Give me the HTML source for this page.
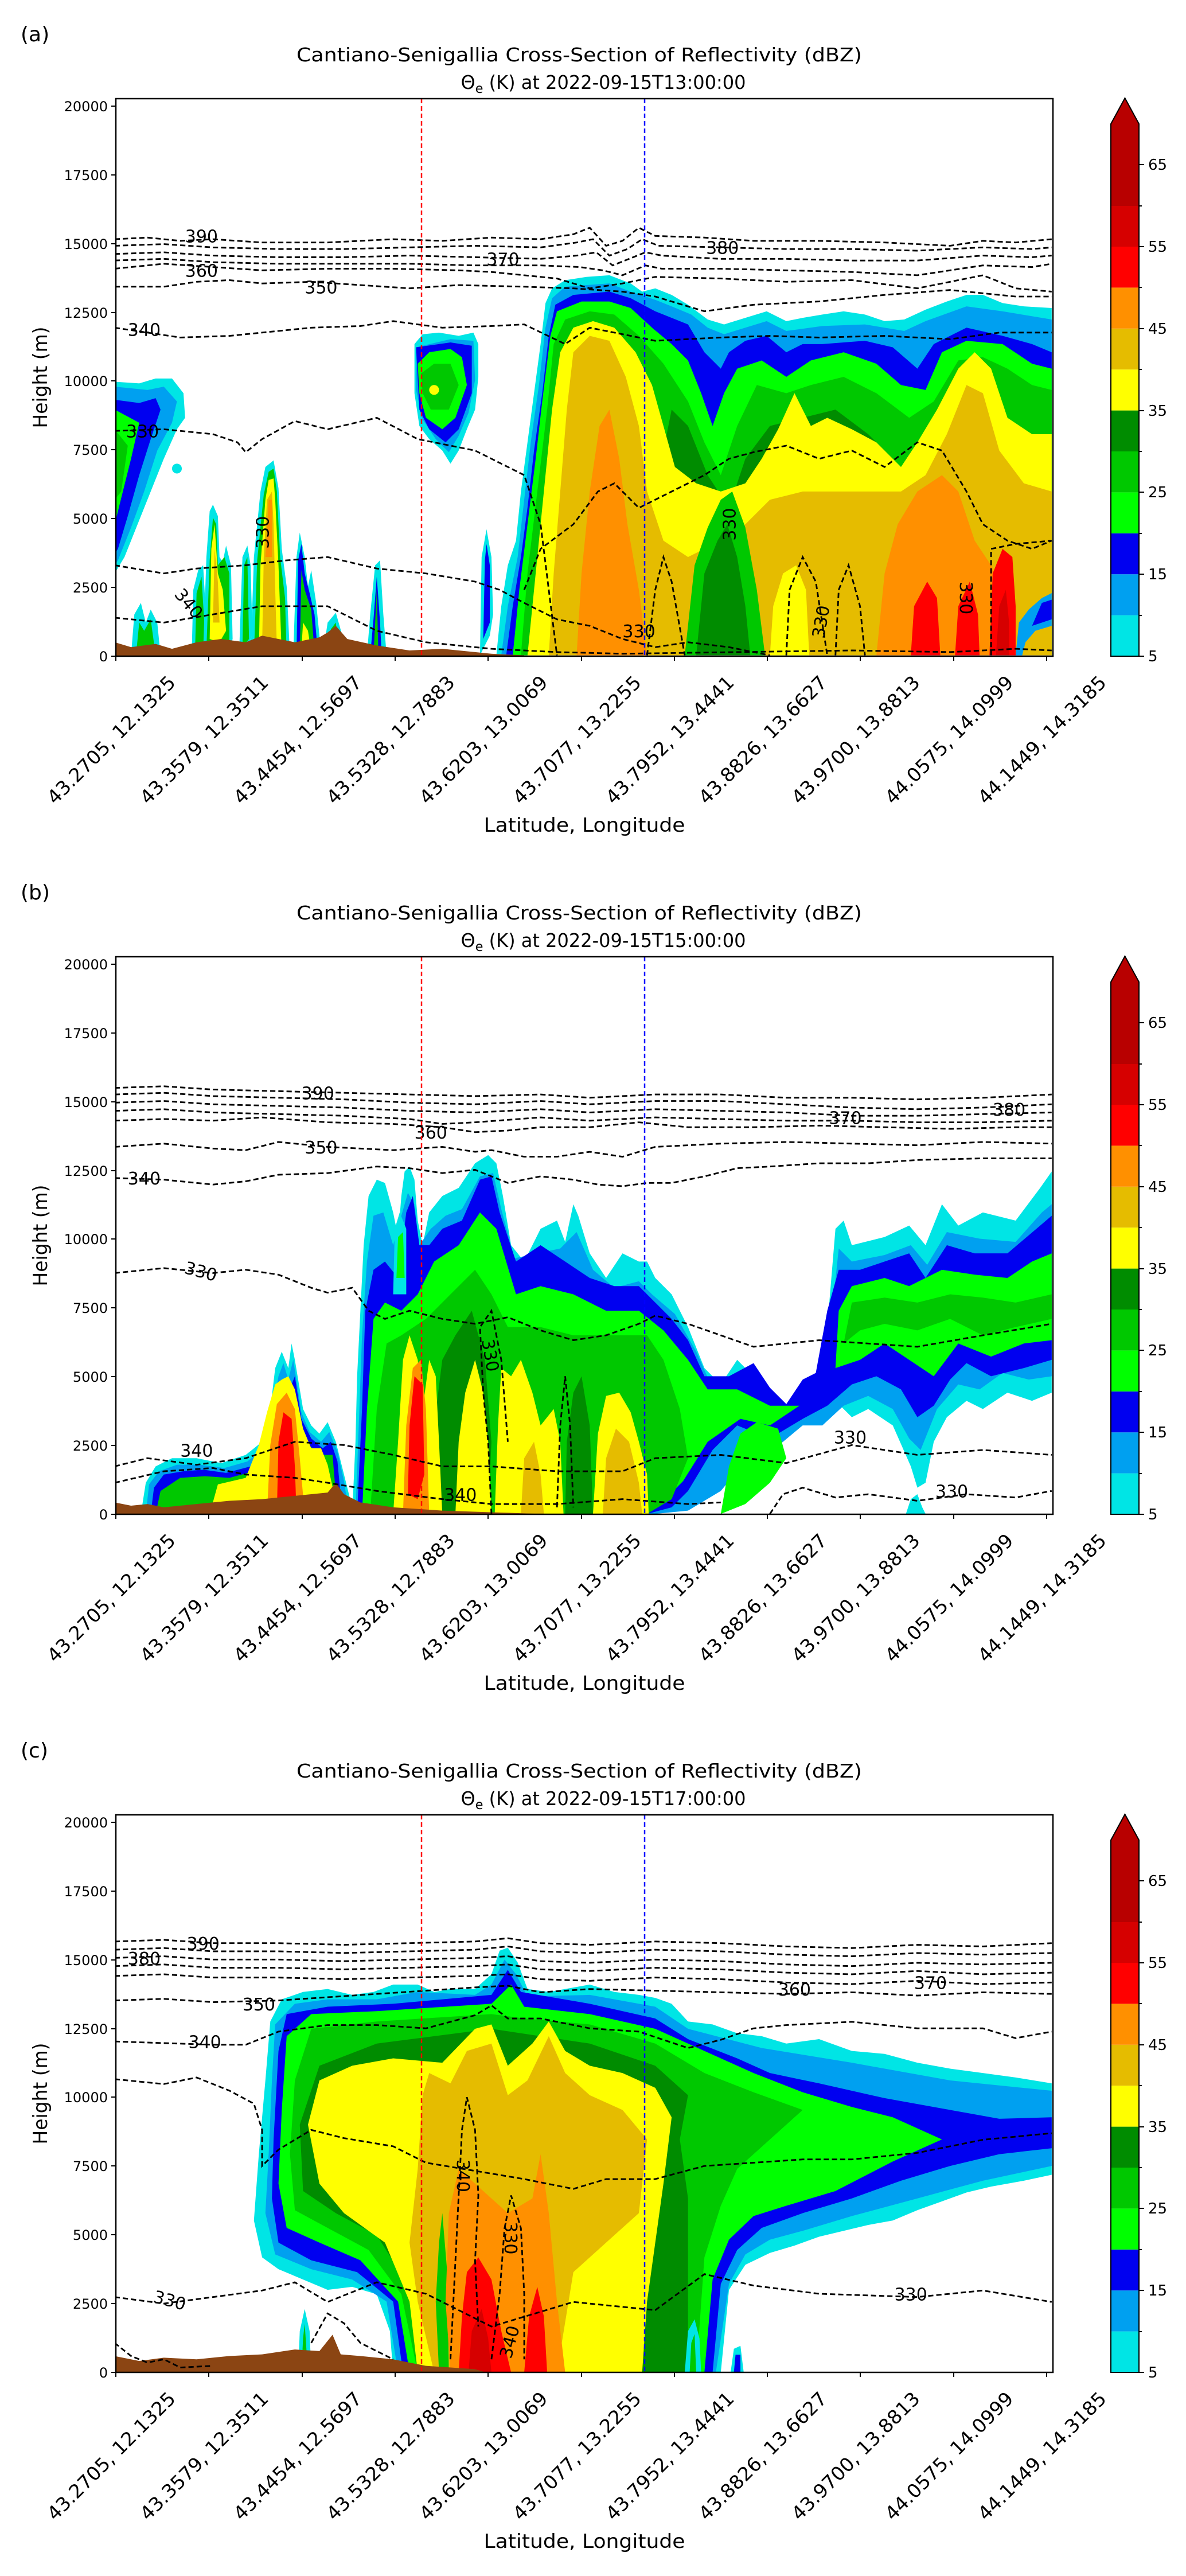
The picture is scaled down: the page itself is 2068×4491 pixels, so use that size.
<!DOCTYPE html>
<html><head><meta charset="utf-8"><style>
html,body{margin:0;padding:0;background:#fff;}
svg{display:block;}
text{font-family:"DejaVu Sans","Liberation Sans",sans-serif;fill:#000;}
.c1{fill:#00e5e5}.c2{fill:#00a0f0}.c3{fill:#0000f0}.c4{fill:#00ff00}.c5{fill:#00c800}.c6{fill:#008c00}
.c7{fill:#ffff00}.c8{fill:#e5bc00}.c9{fill:#ff9000}.c10{fill:#ff0000}.c11{fill:#d60000}.c12{fill:#c00000}
.ter{fill:#8b4513}
.ct{fill:none;stroke:#000;stroke-width:1.0;stroke-dasharray:3.2 1.8}
.cl{font-size:10.5px}
</style></head><body>
<svg width="2068" height="4491" viewBox="0 0 2068 4491" xmlns="http://www.w3.org/2000/svg">
<defs>
<clipPath id="ca"><rect x="70.7" y="60.2" width="572.1" height="340.3"/></clipPath>
<clipPath id="cb"><rect x="70.7" y="583.9" width="572.1" height="340.3"/></clipPath>
<clipPath id="cc"><rect x="70.7" y="1107.6" width="572.1" height="340.3"/></clipPath>
</defs>

<g transform="scale(2.8564)">
<!-- ================= PANEL A ================= -->
<g clip-path="url(#ca)">
<polygon class="c1" points="70,233 85,234 95,231 105,231 112,240 113,255 108,262 100,280 92,300 84,320 76,340 70,350"/>
<polygon class="c2" points="70,236 90,238 100,236 108,245 105,258 96,275 88,300 80,322 72,342 70,345"/>
<polygon class="c3" points="70,244 85,246 95,243 98,250 92,268 85,290 78,315 72,335 70,338"/>
<polygon class="c4" points="70,250 85,258 80,280 75,300 70,320"/>
<polygon class="c5" points="70,262 78,272 74,300 70,305"/>
<circle class="c1" cx="108" cy="286" r="3"/>
<polygon class="c1" points="80,400 82,375 86,368 89,380 92,372 96,380 98,400"/>
<polygon class="c5" points="83,400 85,380 88,385 92,378 95,400"/>
<polygon class="c1" points="117,400 118,360 121,348 124,345 126,380 127,400"/>
<polygon class="c5" points="119,400 120,362 123,352 125,385 125,400"/>
<polygon class="c1" points="124,398 126,340 128,312 130,308 133,315 134,340 136,343 138,333 141,345 142,390 139,400"/>
<polygon class="c5" points="126,396 128,342 130,316 132,320 133,345 137,340 140,350 140,392"/>
<polygon class="c7" points="128,390 129,335 131,320 133,350 136,360 138,385 134,392"/>
<polygon class="c8" points="130,380 131,335 133,355 134,380"/>
<polygon class="c1" points="146,398 148,340 151,333 153,345 154,385 152,398"/>
<polygon class="c5" points="148,395 149,345 151,340 152,390"/>
<polygon class="c1" points="153,400 155,340 159,300 162,285 167,281 170,298 172,335 175,358 177,400"/>
<polygon class="c5" points="155,400 157,342 161,302 164,288 167,286 169,300 171,340 174,365 175,400"/>
<polygon class="c7" points="158,400 159,345 162,305 164,293 167,292 168,305 170,345 172,400"/>
<polygon class="c8" points="160,395 161,340 163,305 166,300 167,320 168,360 169,395"/>
<polygon class="c9" points="162,340 164,305 166,305 166,340"/>
<polygon class="c1" points="179,400 181,340 183,325 186,340 188,358 190,348 193,368 196,398"/>
<polygon class="c3" points="181,398 182,342 184,332 186,350 189,362 192,375 194,398"/>
<polygon class="c5" points="183,398 184,348 186,360 190,372 192,398"/>
<polygon class="c7" points="184,396 185,380 188,385 190,398"/>
<polygon class="c1" points="197,400 200,380 205,374 209,388 211,400"/>
<polygon class="c5" points="200,400 202,384 205,380 207,400"/>
<polygon class="c1" points="224,400 226,375 229,345 232,342 234,375 236,400"/>
<polygon class="c3" points="226,400 228,378 230,352 232,380 233,400"/>
<polygon class="c5" points="228,400 230,360 231,400"/>
<polygon class="c1" points="253,210 258,204 268,203 280,205 289,203 292,210 292,230 290,250 285,262 280,275 275,283 270,275 262,268 256,260 253,240"/>
<polygon class="c2" points="254,212 275,207 289,208 290,232 286,252 280,266 274,276 266,268 258,256 254,238"/>
<polygon class="c3" points="254,212 275,209 288,211 288,240 280,262 272,270 262,262 256,250"/>
<polygon class="c4" points="255,222 262,215 275,213 282,218 285,235 278,255 270,262 260,255 256,240"/>
<polygon class="c5" points="257,228 265,222 275,222 280,235 274,250 263,250 258,240"/>
<circle class="c7" cx="265" cy="238" r="3"/>
<polygon class="c1" points="293,400 294,340 297,323 300,340 301,375 299,388"/>
<polygon class="c3" points="295,390 296,342 297,332 299,345 299,380"/>
<polygon class="c1" points="303,400 306,370 310,345 315,330 318,300 322,270 326,240 330,210 333,185 337,176 345,171 358,169 372,168 385,173 392,178 400,176 410,180 420,186 432,195 442,198 455,194 468,190 480,196 490,194 502,192 515,190 528,192 540,196 552,195 565,189 578,184 590,180 600,180 612,185 625,187 642,188 642,400"/>
<polygon class="c2" points="306,400 310,370 316,340 320,305 324,270 329,235 333,200 337,182 345,175 358,174 372,173 385,178 400,183 410,187 422,192 432,200 442,204 455,200 468,196 480,202 502,199 528,198 552,202 565,196 590,187 612,190 642,195 642,400"/>
<polygon class="c3" points="309,400 313,370 318,340 322,310 326,275 331,240 335,205 339,186 350,180 372,178 385,182 400,190 420,198 430,215 440,225 445,215 455,208 468,205 480,215 490,210 502,210 528,208 545,212 560,225 570,210 590,200 612,205 630,210 642,215 642,400"/>
<polygon class="c4" points="313,400 317,360 322,320 327,280 331,245 336,205 340,190 355,184 372,184 385,188 398,200 410,210 420,220 428,240 435,260 442,240 450,225 465,220 480,230 495,220 515,215 535,222 550,235 565,238 575,215 590,208 612,210 630,222 642,225 642,400"/>
<polygon class="c5" points="318,400 322,350 328,300 334,250 338,210 345,195 360,190 375,192 390,205 405,222 420,245 430,270 440,290 450,260 462,235 480,240 495,235 515,230 535,240 555,255 570,245 585,220 600,218 615,225 630,235 642,238 642,400"/>
<polygon class="c6" points="400,300 410,250 420,260 432,290 445,310 455,280 470,260 490,255 510,250 530,265 545,280 540,310 500,320 460,330 430,330"/>
<polygon class="c7" points="322,400 327,350 332,300 337,250 342,215 350,200 362,196 375,200 388,215 398,235 405,260 412,285 425,295 440,300 455,295 465,280 475,262 485,240 495,260 505,255 520,262 535,270 550,285 560,270 572,250 585,225 595,215 605,225 615,255 630,265 642,265 642,400"/>
<polygon class="c8" points="335,400 338,350 342,300 346,250 350,215 360,205 372,208 382,230 390,260 395,300 405,330 420,340 440,330 455,320 470,305 490,300 510,300 530,300 550,300 565,290 578,265 590,235 600,240 610,275 625,295 642,300 642,400"/>
<polygon class="c5" points="418,400 424,345 432,322 440,305 447,300 455,322 462,360 467,400"/>
<polygon class="c6" points="425,400 430,350 438,330 444,320 450,340 455,370 458,400"/>
<polygon class="c7" points="470,400 472,370 478,350 486,345 492,360 494,400"/>
<polygon class="c9" points="352,400 355,350 360,300 366,260 372,250 378,280 383,320 390,360 395,400"/>
<polygon class="c9" points="535,400 540,350 548,320 560,300 575,290 585,300 595,330 605,345 612,360 615,400"/>
<polygon class="c10" points="556,400 558,370 566,355 572,365 574,400"/>
<polygon class="c10" points="583,400 585,370 592,355 597,375 598,400"/>
<polygon class="c10" points="604,400 606,350 612,335 618,340 620,370 620,400"/>
<polygon class="c11" points="608,400 610,370 614,360 616,380 616,400"/>
<polygon class="c2" points="620,400 622,380 628,372 636,365 642,362 642,382 632,385 626,392 624,400"/>
<polygon class="c3" points="630,382 636,368 642,366 642,378"/>
<polygon class="ter" points="70,401 70,392 80,395 95,393 105,396 120,392 135,390 150,392 160,388 170,390 180,392 195,389 200,386 205,382 212,390 230,394 250,397 270,396 300,399 320,400 320,401"/>
<polyline class="ct" points="70,146 90,145 110,147 130,146 160,148 200,148 240,146 270,147 300,145 330,146 350,143 360,139 370,150 380,147 390,139 400,144 430,145 460,147 500,147 540,148 580,150 600,147 620,148 642,146"/>
<polyline class="ct" points="70,150 100,149 130,151 170,152 210,152 250,151 290,150 330,151 352,148 362,146 372,156 383,152 392,146 402,150 440,151 480,152 520,152 560,153 600,151 630,152 642,151"/>
<polyline class="ct" points="70,155 100,154 130,156 170,157 210,157 250,156 290,157 330,158 352,156 364,154 374,162 384,158 394,154 404,156 440,158 480,158 520,159 560,159 600,156 630,157 642,156"/>
<polyline class="ct" points="70,159 100,158 130,160 170,161 210,161 250,161 290,162 330,162 354,163 368,165 380,168 394,162 404,164 440,164 480,165 520,166 560,168 600,162 630,163 642,161"/>
<polyline class="ct" points="70,164 100,161 130,163 160,165 200,164 240,164 280,165 300,166 320,168 340,170 360,176 380,173 400,169 440,170 480,172 520,171 560,176 600,168 620,176 642,178"/>
<polyline class="ct" points="70,175 100,175 120,172 140,171 160,173 190,172 220,174 250,176 280,174 320,175 350,176 380,178 400,181 430,190 460,186 500,184 540,180 580,177 620,181 642,181"/>
<polyline class="ct" points="70,200 90,203 110,206 140,205 170,202 190,200 220,199 240,196 270,200 300,199 320,198 345,210 360,200 380,204 400,208 420,207 440,206 470,205 500,206 540,205 580,207 610,203 642,203"/>
<polyline class="ct" points="70,263 100,262 130,265 145,270 150,276 160,268 180,257 200,262 230,255 255,268 290,275 320,290 330,320 335,360 340,400"/>
<polyline class="ct" points="320,360 330,335 350,320 365,300 375,295 390,310 410,300 430,290 445,280 460,276 480,272 500,280 520,275 540,285 560,270 575,275 590,300 600,320 615,330 630,335 642,330"/>
<polyline class="ct" points="605,400 605,335 620,332 642,330"/>
<polyline class="ct" points="70,345 100,350 120,347 150,345 175,342 200,340 230,347 260,350 290,355 305,360 320,368 340,378 360,382 380,390 400,395 420,392 445,395 470,400"/>
<polyline class="ct" points="70,377 100,380 130,375 160,370 200,370 230,385 260,392 300,396 340,398 380,399 450,398 520,397 580,398 620,396 642,397"/>
<polyline class="ct" points="395,400 400,360 405,340 410,355 418,400"/>
<polyline class="ct" points="480,400 482,360 490,340 498,355 505,400"/>
<polyline class="ct" points="510,400 512,360 518,345 525,370 528,400"/>
</g>
<g class="cl">
<text x="113" y="148">390</text><text x="113" y="169">360</text><text x="297" y="162">370</text>
<text x="186" y="179">350</text><text x="78" y="205">340</text><text x="431" y="155">380</text>
<text x="77" y="267">330</text><text x="380" y="389">330</text>
<text x="0" y="0" transform="translate(164,335) rotate(-90)">330</text>
<text x="0" y="0" transform="translate(449,330) rotate(-90)">330</text>
<text x="0" y="0" transform="translate(503,390) rotate(-80)">330</text>
<text x="0" y="0" transform="translate(106,363) rotate(50)">340</text>
<text x="0" y="0" transform="translate(586,355) rotate(90)">330</text>
</g>

<!-- ================= PANEL B ================= -->
<g clip-path="url(#cb)">
<polygon class="c1" points="86,924 89,905 95,895 105,890 120,890 135,893 150,888 160,880 165,860 168,835 172,825 176,835 178,820 180,830 185,860 190,870 195,875 200,868 205,880 210,900 215,920 215,924"/>
<polygon class="c2" points="89,924 91,906 97,898 108,894 122,894 137,896 151,892 161,884 166,862 170,840 173,832 176,842 179,830 184,862 189,874 196,880 201,874 206,886 210,904 213,924"/>
<polygon class="c3" points="92,924 94,908 100,900 112,898 124,897 138,899 153,895 163,887 168,864 172,846 176,850 180,840 184,866 190,878 197,884 202,880 206,892 209,924"/>
<polygon class="c5" points="95,924 98,910 110,902 125,901 140,902 155,898 165,890 170,866 174,852 178,850 182,870 188,882 197,888 203,888 206,924"/>
<polygon class="c7" points="128,924 133,906 150,902 158,882 163,862 168,845 172,842 176,840 180,848 185,872 190,884 196,884 200,894 204,912 204,924"/>
<polygon class="c9" points="163,924 165,882 169,857 175,850 180,860 183,890 186,924"/>
<polygon class="c10" points="169,924 170,880 173,862 178,866 180,895 181,924"/>
<polygon class="c1" points="215,924 217,880 218,840 220,800 222,760 225,730 230,720 235,722 240,740 243,755 245,730 247,715 250,712 253,720 255,745 258,760 262,740 270,730 280,725 290,710 298,705 303,710 307,730 312,760 320,770 330,750 340,745 345,758 350,735 353,742 360,765 370,780 380,765 390,770 395,770 400,780 410,790 420,810 430,835 440,845 450,830 460,840 470,850 480,858 490,850 498,845 505,810 510,750 515,745 520,760 540,755 555,748 565,760 575,735 585,748 600,740 620,745 635,725 642,715 642,850 630,855 615,850 600,860 590,855 578,865 570,880 565,905 560,908 556,895 545,870 530,860 520,865 510,855 500,860 490,850 480,870 470,880 460,880 450,890 440,905 420,918 400,924"/>
<polygon class="c2" points="217,924 219,870 221,815 224,770 228,742 234,740 240,760 245,742 249,728 253,735 256,760 263,750 272,742 282,738 293,718 301,716 306,738 314,768 328,765 342,762 352,752 362,775 375,786 390,782 398,790 412,802 425,825 437,852 450,842 465,852 480,866 492,858 500,858 508,800 512,762 520,770 540,766 556,760 566,772 578,752 598,756 620,758 636,740 642,735 642,840 628,842 612,838 598,848 585,845 572,860 562,885 555,878 545,860 530,852 515,858 502,870 490,870 478,880 465,890 450,898 440,910 420,922 400,924"/>
<polygon class="c3" points="218,924 221,860 223,800 228,775 235,770 243,780 248,740 252,730 256,760 262,760 270,750 282,745 293,720 300,718 305,740 315,770 330,760 345,770 360,780 375,785 390,785 400,795 410,805 420,818 430,840 445,840 460,832 470,847 480,857 490,842 498,838 505,800 512,775 525,775 540,770 555,765 565,780 578,760 595,765 615,765 635,748 642,742 642,830 625,835 605,840 590,832 580,842 570,858 560,865 550,848 535,840 520,845 505,858 490,866 470,878 450,870 435,885 420,910 410,920 395,924"/>
<polygon class="c4" points="221,924 224,860 228,805 235,795 245,800 255,790 265,770 280,760 293,740 303,750 315,790 330,785 350,790 370,800 390,800 405,812 420,830 432,848 450,848 470,858 488,858 470,870 452,866 432,880 417,904 405,916 395,920"/>
<polygon class="c4" points="510,835 512,800 520,785 540,780 555,785 575,775 595,778 615,780 630,770 642,765 642,818 625,820 605,828 585,820 570,840 555,830 540,820 525,830"/>
<polygon class="c5" points="515,820 520,795 540,792 560,795 580,790 600,792 620,795 642,790 642,805 620,810 600,815 580,805 560,812 540,808 525,812"/>
<polygon class="c4" points="440,924 445,895 452,875 462,868 475,872 480,890 470,905 455,918"/>
<polygon class="c5" points="226,924 230,860 236,820 245,815 260,805 275,790 290,775 300,790 310,810 330,810 350,815 375,815 395,815 405,830 415,860 420,890 410,915 395,924"/>
<polygon class="c6" points="262,924 265,870 270,830 278,815 288,800 296,830 300,880 298,924"/>
<polygon class="c6" points="345,924 346,880 350,850 355,840 360,870 362,924"/>
<polygon class="c7" points="240,924 243,880 246,830 250,815 255,830 258,860 262,830 266,840 268,880 270,924"/>
<polygon class="c7" points="278,924 280,880 284,850 290,830 295,850 298,880 300,924"/>
<polygon class="c7" points="302,924 304,870 306,835 312,840 318,830 325,850 330,870 338,860 342,880 344,924"/>
<polygon class="c7" points="362,924 365,875 370,852 378,850 385,862 390,880 395,900 396,924"/>
<polygon class="c8" points="368,924 370,890 376,872 384,880 390,905 392,924"/>
<polygon class="c8" points="318,924 320,890 326,880 330,900 332,924"/>
<polygon class="c9" points="246,924 248,870 252,835 257,830 260,860 262,924"/>
<polygon class="c10" points="249,912 250,870 253,840 258,845 259,900 255,915"/>
<polygon class="c1" points="240,790 241,750 244,740 248,750 248,790"/>
<polygon class="c4" points="242,780 243,755 246,752 247,780"/>
<polygon class="c1" points="553,924 556,915 560,912 563,920 565,924"/>
<polygon class="ter" points="70,925 70,917 80,919 90,918 100,920 120,918 140,916 160,915 180,913 200,911 205,905 210,912 220,917 240,920 270,922 300,923 330,924 330,925"/>
<polyline class="ct" points="70,664 100,663 130,665 170,666 210,667 250,668 290,669 330,668 360,670 400,668 440,668 480,670 520,670 560,671 600,670 642,668"/>
<polyline class="ct" points="70,668 100,667 130,669 170,670 210,671 250,673 290,674 330,672 360,674 400,672 440,672 480,674 520,676 560,677 600,676 642,674"/>
<polyline class="ct" points="70,673 100,672 130,674 170,675 210,676 250,678 290,679 330,677 360,679 400,677 440,678 480,679 520,681 560,681 600,680 642,679"/>
<polyline class="ct" points="70,678 100,677 130,679 170,680 210,681 250,683 270,686 290,685 330,682 360,684 400,682 440,683 480,684 520,684 560,685 600,685 642,684"/>
<polyline class="ct" points="70,684 100,683 130,684 160,682 200,685 240,686 270,688 290,691 310,690 330,688 360,688 390,685 420,688 460,688 500,687 540,688 580,689 620,688 642,688"/>
<polyline class="ct" points="70,700 100,698 130,701 150,702 170,697 200,700 240,702 270,700 290,703 300,702 320,706 340,706 360,703 380,706 400,700 440,698 480,697 520,698 560,699 600,697 642,698"/>
<polyline class="ct" points="70,719 100,720 130,723 150,721 170,717 200,716 230,712 250,713 270,716 290,714 310,722 330,718 350,720 365,723 380,724 395,722 410,722 430,718 450,713 470,712 500,710 530,710 560,708 600,707 642,707"/>
<polyline class="ct" points="70,777 100,774 130,777 150,775 170,778 190,786 200,789 215,786 225,800 235,805 250,800 270,805 290,808 310,804 330,812 350,818 370,815 390,808 400,803 420,808 440,815 460,822 480,820 500,818 530,820 560,822 600,815 642,808"/>
<polyline class="ct" points="70,895 90,890 120,894 150,890 180,880 210,882 240,888 270,895 300,895 340,898 380,898 400,890 440,888 480,893 520,882 560,888 600,885 642,888"/>
<polyline class="ct" points="70,905 100,898 130,896 150,900 180,902 200,905 230,910 270,915 300,918 340,918 380,915 420,918 440,917"/>
<polyline class="ct" points="470,924 478,912 490,908 510,914 530,912 560,916 590,912 620,914 642,910"/>
<polyline class="ct" points="300,924 298,880 295,850 293,810 300,800 306,830 310,880"/>
<polyline class="ct" points="340,920 342,870 345,840 348,870 350,920"/>
</g>
<g class="cl">
<text x="184" y="671">390</text><text x="506" y="686">370</text><text x="606" y="681">380</text>
<text x="253" y="695">360</text><text x="186" y="704">350</text><text x="78" y="723">340</text>
<text x="0" y="0" transform="translate(112,777) rotate(15)">330</text>
<text x="509" y="881">330</text><text x="571" y="914">330</text>
<text x="110" y="889">340</text><text x="271" y="916">340</text>
<text x="0" y="0" transform="translate(294,818) rotate(80)">330</text>
</g>

<!-- ================= PANEL C ================= -->
<g clip-path="url(#cc)">
<g transform="translate(0,144.79) scale(1,0.9)">
<polygon class="c1" points="240,1448 238,1420 230,1395 215,1390 200,1392 185,1385 170,1378 160,1370 155,1345 158,1300 162,1250 165,1210 172,1195 185,1190 200,1188 215,1192 228,1190 240,1185 255,1185 265,1190 275,1188 290,1188 300,1178 305,1162 310,1160 316,1170 322,1188 335,1190 345,1188 360,1185 375,1190 390,1192 400,1194 410,1198 420,1210 435,1212 450,1218 465,1220 480,1225 500,1222 520,1230 540,1232 560,1238 580,1242 600,1245 620,1248 642,1252 642,1314 625,1318 605,1322 590,1326 575,1332 560,1338 545,1345 530,1348 515,1352 500,1356 485,1362 470,1367 455,1375 445,1392 440,1448"/>
<polygon class="c2" points="243,1448 236,1400 215,1385 190,1378 168,1368 162,1340 164,1300 166,1250 168,1212 180,1198 200,1195 230,1195 255,1190 290,1192 300,1185 308,1168 315,1178 322,1193 360,1192 400,1200 420,1215 465,1228 520,1238 580,1250 642,1257 642,1308 600,1318 560,1330 520,1342 490,1352 470,1358 455,1368 445,1388 437,1448"/>
<polygon class="c3" points="246,1448 240,1400 218,1380 190,1372 170,1360 166,1330 167,1290 170,1230 175,1205 200,1200 240,1198 300,1192 310,1175 318,1190 360,1198 400,1208 420,1222 450,1235 470,1245 500,1252 540,1262 580,1270 610,1276 642,1275 642,1296 610,1300 580,1308 550,1318 520,1330 490,1340 465,1350 450,1365 440,1388 435,1448"/>
<polygon class="c4" points="250,1448 243,1400 220,1372 195,1360 175,1350 170,1320 172,1270 175,1220 190,1205 230,1203 300,1198 312,1185 320,1200 360,1205 400,1215 430,1230 460,1245 490,1258 520,1268 545,1275 575,1290 545,1305 510,1325 480,1335 460,1342 445,1358 435,1385 430,1448"/>
<polygon class="c5" points="255,1448 245,1395 225,1365 200,1350 180,1338 177,1300 180,1250 190,1215 230,1210 300,1205 320,1208 360,1212 400,1225 430,1245 460,1258 490,1270 470,1290 450,1310 440,1335 430,1370 425,1448"/>
<polygon class="c6" points="260,1448 250,1390 230,1355 205,1340 185,1325 183,1280 195,1240 230,1225 300,1215 360,1225 400,1240 420,1260 415,1290 420,1330 420,1448"/>
<polygon class="c7" points="255,1448 250,1400 235,1360 210,1340 195,1320 188,1280 195,1250 215,1240 240,1235 270,1238 290,1215 300,1212 310,1240 325,1225 335,1210 345,1230 360,1240 380,1245 400,1255 410,1275 405,1320 400,1360 395,1400 392,1448"/>
<polygon class="c8" points="265,1448 255,1400 250,1360 255,1310 258,1260 262,1245 275,1252 285,1230 300,1225 310,1260 322,1250 335,1220 345,1245 360,1260 380,1270 395,1290 390,1340 370,1360 350,1380 340,1448"/>
<polygon class="c5" points="268,1448 266,1400 268,1360 270,1340 273,1380 274,1448"/>
<polygon class="c9" points="275,1448 272,1400 274,1340 280,1310 290,1320 300,1330 310,1340 325,1330 330,1300 335,1340 340,1400 345,1448"/>
<polygon class="c10" points="280,1448 282,1410 285,1380 292,1370 300,1385 306,1420 312,1448"/>
<polygon class="c10" points="320,1448 323,1410 328,1390 332,1410 334,1448"/>
<polygon class="c11" points="286,1448 288,1420 294,1405 298,1425 300,1448"/>
<polygon class="c1" points="182,1448 183,1420 186,1405 189,1420 190,1448"/>
<polygon class="c5" points="184,1448 185,1425 186,1415 188,1448"/>
<polygon class="c1" points="418,1448 420,1420 424,1412 427,1425 428,1448"/>
<polygon class="c5" points="421,1448 422,1428 424,1422 425,1448"/>
<polygon class="c1" points="446,1448 448,1432 452,1430 454,1448"/>
<polygon class="c3" points="448,1448 449,1436 452,1436 452,1448"/>
</g>
<polygon class="ter" points="70,1449 70,1438 85,1441 100,1439 120,1440 140,1438 160,1437 180,1434 195,1435 203,1425 208,1437 220,1438 240,1440 260,1444 290,1446 300,1449"/>
<polyline class="ct" points="70,1185 100,1184 130,1186 170,1186 210,1187 250,1186 290,1185 310,1183 330,1186 360,1187 400,1185 440,1186 480,1188 520,1189 560,1187 600,1188 642,1186"/>
<polyline class="ct" points="70,1190 100,1189 130,1191 170,1191 210,1192 250,1191 290,1190 310,1188 330,1191 360,1192 400,1190 440,1191 480,1193 520,1194 560,1192 600,1193 642,1192"/>
<polyline class="ct" points="70,1195 100,1194 130,1196 170,1196 210,1197 250,1196 290,1195 310,1194 330,1197 360,1198 400,1196 440,1197 480,1199 520,1200 560,1198 600,1199 642,1198"/>
<polyline class="ct" points="70,1200 100,1199 130,1201 170,1201 210,1202 250,1201 290,1200 310,1199 330,1202 360,1203 400,1201 440,1202 480,1204 520,1205 560,1203 600,1205 642,1204"/>
<polyline class="ct" points="70,1206 100,1205 130,1207 170,1207 210,1208 250,1207 290,1206 310,1205 330,1208 360,1209 400,1207 440,1208 480,1210 520,1211 560,1209 600,1211 642,1210"/>
<polyline class="ct" points="70,1221 100,1220 130,1222 170,1221 200,1219 230,1217 260,1215 290,1213 310,1212 330,1216 360,1214 400,1215 440,1216 480,1217 520,1216 560,1218 600,1216 642,1217"/>
<polyline class="ct" points="70,1246 100,1247 130,1248 150,1248 170,1240 200,1236 230,1236 260,1238 290,1230 300,1224 310,1232 330,1232 360,1238 390,1240 420,1250 440,1245 460,1238 480,1236 520,1234 560,1238 600,1238 620,1244 642,1240"/>
<polyline class="ct" points="70,1269 100,1272 120,1268 140,1276 155,1284 160,1300 160,1322 170,1312 190,1300 210,1305 240,1310 260,1320 290,1325 320,1330 350,1336 370,1330 400,1330 430,1322 460,1320 490,1318 520,1318 560,1314 600,1306 642,1302"/>
<polyline class="ct" points="70,1402 100,1406 130,1402 160,1398 180,1393 200,1405 230,1393 260,1400 300,1420 350,1405 400,1410 430,1388 460,1395 500,1400 560,1402 600,1398 642,1405"/>
<polyline class="ct" points="70,1430 80,1438 90,1442 100,1440 110,1445 130,1444"/>
<polyline class="ct" points="190,1430 200,1412 210,1418 220,1430 240,1440"/>
<polyline class="ct" points="275,1440 278,1380 280,1340 282,1300 285,1280 290,1300 292,1340 290,1380 292,1420"/>
<polyline class="ct" points="300,1440 305,1400 308,1360 312,1340 318,1360 320,1400 320,1440"/>
</g>
<g class="cl">
<text x="114" y="1190">390</text><text x="78" y="1199">380</text><text x="148" y="1227">350</text>
<text x="115" y="1250">340</text><text x="475" y="1218">360</text><text x="558" y="1214">370</text>
<text x="0" y="0" transform="translate(93,1405) rotate(15)">330</text>
<text x="546" y="1404">330</text>
<text x="0" y="0" transform="translate(279,1318) rotate(90)">340</text>
<text x="0" y="0" transform="translate(308,1356) rotate(90)">330</text>
<text x="0" y="0" transform="translate(312,1440) rotate(-75)">340</text>
</g>
</g>

<g>
<line x1="735" y1="172" x2="735" y2="1144" stroke="#ff0000" stroke-width="2.5" stroke-dasharray="8 5"/>
<line x1="1124" y1="172" x2="1124" y2="1144" stroke="#0000ff" stroke-width="2.5" stroke-dasharray="8 5"/>
<rect x="202" y="172" width="1634" height="972" fill="none" stroke="#000" stroke-width="2.5"/>
<text x="36" y="72" style="font-size:36px">(a)</text>
<text x="1010" y="107" text-anchor="middle" style="font-size:33px" textLength="986" lengthAdjust="spacingAndGlyphs">Cantiano-Senigallia Cross-Section of Reflectivity (dBZ)</text>
<text x="1052" y="155" text-anchor="middle" style="font-size:33px" textLength="497" lengthAdjust="spacingAndGlyphs">Θ<tspan style="font-size:23px" dy="7">e</tspan><tspan dy="-7"> (K) at 2022-09-15T13:00:00</tspan></text>
</g>
<g>
<line x1="735" y1="1668" x2="735" y2="2640" stroke="#ff0000" stroke-width="2.5" stroke-dasharray="8 5"/>
<line x1="1124" y1="1668" x2="1124" y2="2640" stroke="#0000ff" stroke-width="2.5" stroke-dasharray="8 5"/>
<rect x="202" y="1668" width="1634" height="972" fill="none" stroke="#000" stroke-width="2.5"/>
<text x="36" y="1568" style="font-size:36px">(b)</text>
<text x="1010" y="1603" text-anchor="middle" style="font-size:33px" textLength="986" lengthAdjust="spacingAndGlyphs">Cantiano-Senigallia Cross-Section of Reflectivity (dBZ)</text>
<text x="1052" y="1651" text-anchor="middle" style="font-size:33px" textLength="497" lengthAdjust="spacingAndGlyphs">Θ<tspan style="font-size:23px" dy="7">e</tspan><tspan dy="-7"> (K) at 2022-09-15T15:00:00</tspan></text>
</g>
<g>
<line x1="735" y1="3164" x2="735" y2="4136" stroke="#ff0000" stroke-width="2.5" stroke-dasharray="8 5"/>
<line x1="1124" y1="3164" x2="1124" y2="4136" stroke="#0000ff" stroke-width="2.5" stroke-dasharray="8 5"/>
<rect x="202" y="3164" width="1634" height="972" fill="none" stroke="#000" stroke-width="2.5"/>
<text x="36" y="3064" style="font-size:36px">(c)</text>
<text x="1010" y="3099" text-anchor="middle" style="font-size:33px" textLength="986" lengthAdjust="spacingAndGlyphs">Cantiano-Senigallia Cross-Section of Reflectivity (dBZ)</text>
<text x="1052" y="3147" text-anchor="middle" style="font-size:33px" textLength="497" lengthAdjust="spacingAndGlyphs">Θ<tspan style="font-size:23px" dy="7">e</tspan><tspan dy="-7"> (K) at 2022-09-15T17:00:00</tspan></text>
</g>

<g id="common">
<g stroke="#000" stroke-width="2">
<line x1="194" y1="1144" x2="202" y2="1144"/><line x1="194" y1="1024" x2="202" y2="1024"/><line x1="194" y1="904" x2="202" y2="904"/><line x1="194" y1="784" x2="202" y2="784"/><line x1="194" y1="664" x2="202" y2="664"/><line x1="194" y1="545" x2="202" y2="545"/><line x1="194" y1="425" x2="202" y2="425"/><line x1="194" y1="305" x2="202" y2="305"/><line x1="194" y1="185" x2="202" y2="185"/>
<line x1="202" y1="1144" x2="202" y2="1152"/><line x1="364" y1="1144" x2="364" y2="1152"/><line x1="527" y1="1144" x2="527" y2="1152"/><line x1="689" y1="1144" x2="689" y2="1152"/><line x1="851" y1="1144" x2="851" y2="1152"/><line x1="1014" y1="1144" x2="1014" y2="1152"/><line x1="1176" y1="1144" x2="1176" y2="1152"/><line x1="1338" y1="1144" x2="1338" y2="1152"/><line x1="1500" y1="1144" x2="1500" y2="1152"/><line x1="1663" y1="1144" x2="1663" y2="1152"/><line x1="1825" y1="1144" x2="1825" y2="1152"/>
</g>
<g style="font-size:24px" text-anchor="end">
<text x="188" y="1153">0</text><text x="188" y="1033">2500</text><text x="188" y="913">5000</text><text x="188" y="793">7500</text><text x="188" y="673">10000</text><text x="188" y="554">12500</text><text x="188" y="434">15000</text><text x="188" y="314">17500</text><text x="188" y="194">20000</text>
</g>
<g style="font-size:33px" text-anchor="middle">
<text transform="translate(202,1298) rotate(-45)" textLength="300" lengthAdjust="spacingAndGlyphs">43.2705, 12.1325</text>
<text transform="translate(364,1298) rotate(-45)" textLength="300" lengthAdjust="spacingAndGlyphs">43.3579, 12.3511</text>
<text transform="translate(527,1298) rotate(-45)" textLength="300" lengthAdjust="spacingAndGlyphs">43.4454, 12.5697</text>
<text transform="translate(689,1298) rotate(-45)" textLength="300" lengthAdjust="spacingAndGlyphs">43.5328, 12.7883</text>
<text transform="translate(851,1298) rotate(-45)" textLength="300" lengthAdjust="spacingAndGlyphs">43.6203, 13.0069</text>
<text transform="translate(1014,1298) rotate(-45)" textLength="300" lengthAdjust="spacingAndGlyphs">43.7077, 13.2255</text>
<text transform="translate(1176,1298) rotate(-45)" textLength="300" lengthAdjust="spacingAndGlyphs">43.7952, 13.4441</text>
<text transform="translate(1338,1298) rotate(-45)" textLength="300" lengthAdjust="spacingAndGlyphs">43.8826, 13.6627</text>
<text transform="translate(1500,1298) rotate(-45)" textLength="300" lengthAdjust="spacingAndGlyphs">43.9700, 13.8813</text>
<text transform="translate(1663,1298) rotate(-45)" textLength="300" lengthAdjust="spacingAndGlyphs">44.0575, 14.0999</text>
<text transform="translate(1825,1298) rotate(-45)" textLength="300" lengthAdjust="spacingAndGlyphs">44.1449, 14.3185</text>
</g>
<text x="1019" y="1450" text-anchor="middle" style="font-size:34px" textLength="351" lengthAdjust="spacingAndGlyphs">Latitude, Longitude</text>
<text transform="translate(82,658) rotate(-90)" text-anchor="middle" style="font-size:34px" textLength="177" lengthAdjust="spacingAndGlyphs">Height (m)</text>
<g>
<rect x="1937" y="1072.6" width="49" height="71.4" fill="#00e5e5"/>
<rect x="1937" y="1001.2" width="49" height="71.4" fill="#00a0f0"/>
<rect x="1937" y="929.8" width="49" height="71.4" fill="#0000f0"/>
<rect x="1937" y="858.4" width="49" height="71.4" fill="#00ff00"/>
<rect x="1937" y="787" width="49" height="71.4" fill="#00c800"/>
<rect x="1937" y="715.6" width="49" height="71.4" fill="#008c00"/>
<rect x="1937" y="644.2" width="49" height="71.4" fill="#ffff00"/>
<rect x="1937" y="572.8" width="49" height="71.4" fill="#e5bc00"/>
<rect x="1937" y="501.4" width="49" height="71.4" fill="#ff9000"/>
<rect x="1937" y="430" width="49" height="71.4" fill="#ff0000"/>
<rect x="1937" y="358.6" width="49" height="71.4" fill="#d60000"/>
<polygon points="1937,359 1937,216 1961.5,171 1986,216 1986,359" fill="#b80000"/>
<polygon points="1937,1144 1937,216 1961.5,171 1986,216 1986,1144" fill="none" stroke="#000" stroke-width="2"/>
<g stroke="#000" stroke-width="2">
<line x1="1986" y1="1144" x2="1995" y2="1144"/><line x1="1986" y1="1001" x2="1995" y2="1001"/><line x1="1986" y1="858" x2="1995" y2="858"/><line x1="1986" y1="716" x2="1995" y2="716"/><line x1="1986" y1="573" x2="1995" y2="573"/><line x1="1986" y1="430" x2="1995" y2="430"/><line x1="1986" y1="287" x2="1995" y2="287"/>
<line x1="1986" y1="1073" x2="1991" y2="1073"/><line x1="1986" y1="930" x2="1991" y2="930"/><line x1="1986" y1="787" x2="1991" y2="787"/><line x1="1986" y1="644" x2="1991" y2="644"/><line x1="1986" y1="501" x2="1991" y2="501"/><line x1="1986" y1="359" x2="1991" y2="359"/>
</g>
<g style="font-size:26px">
<text x="2002" y="1153">5</text><text x="2002" y="1010">15</text><text x="2002" y="867">25</text><text x="2002" y="725">35</text><text x="2002" y="582">45</text><text x="2002" y="439">55</text><text x="2002" y="296">65</text>
</g>
</g>
</g>
<use href="#common" y="1496"/>
<use href="#common" y="2992"/>
</svg>
</body></html>
